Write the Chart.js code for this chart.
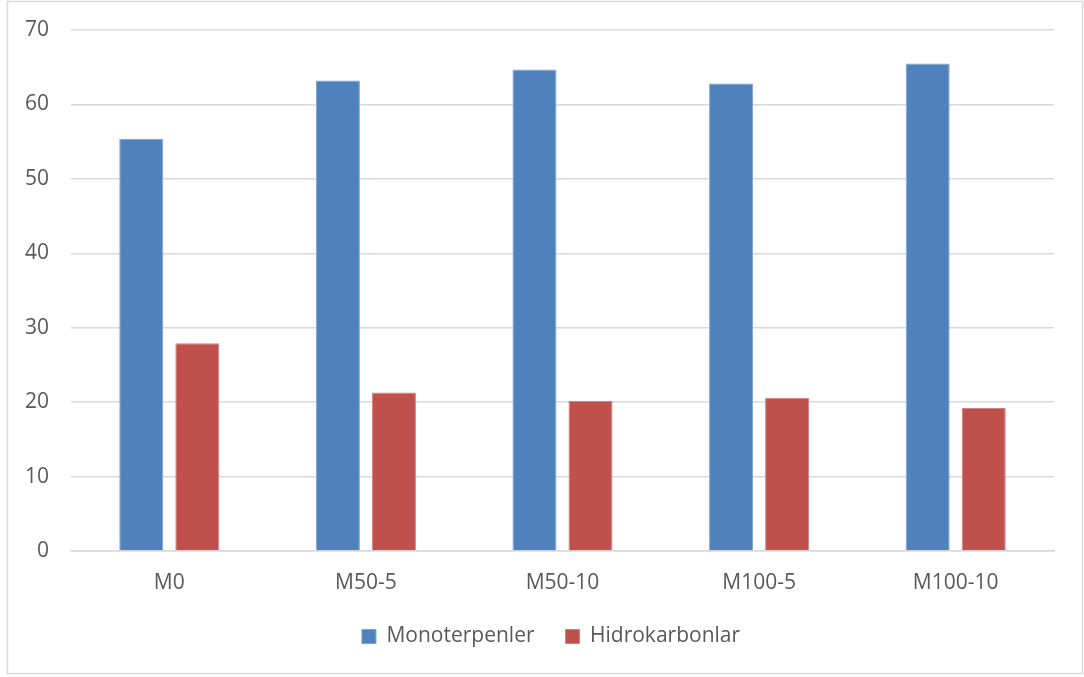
<!DOCTYPE html>
<html>
<head>
<meta charset="utf-8">
<script src="https://cdn.jsdelivr.net/npm/chart.js@4.4.1/dist/chart.umd.min.js"></script>
<style>
  html, body { margin: 0; padding: 0; background: #ffffff; }
  #wrap { position: relative; width: 1084px; height: 677px; }
</style>
</head>
<body>
<div id="wrap"><canvas id="chart" width="1084" height="677"></canvas></div>
<script>
// Sample groups and measured shares (%)
const categories = ['M0', 'M50-5', 'M50-10', 'M100-5', 'M100-10'];
const monoterpenler = [55.4, 63.2, 64.7, 62.8, 65.5];
const hidrokarbonlar = [27.9, 21.3, 20.2, 20.6, 19.2];
const yTicks = [0, 10, 20, 30, 40, 50, 60, 70];

const FONT = "'Open Sans', 'Noto Sans', sans-serif";
const FONT_SIZE = 21;
const TEXT = '#595959';
const GRID = '#d9d9d9';

// Light frame around the whole chart
const framePlugin = {
  id: 'frame',
  beforeDraw(chart) {
    const ctx = chart.ctx;
    ctx.save();
    ctx.fillStyle = '#ffffff';
    ctx.fillRect(0, 0, chart.width, chart.height);
    ctx.strokeStyle = '#d9d9d9';
    ctx.lineWidth = 1.5;
    ctx.strokeRect(7.5, 1.5, 1075, 672);
    ctx.restore();
  }
};

// Center the legend on the whole frame rather than on the padded area
const legendShift = {
  id: 'legendShift',
  afterLayout(chart) {
    if (chart.legend) {
      chart.legend.left += 20;
      chart.legend.right += 20;
    }
  }
};

new Chart(document.getElementById('chart'), {
  type: 'bar',
  data: {
    labels: categories,
    datasets: [
      {
        label: 'Monoterpenler',
        data: monoterpenler,
        backgroundColor: '#4f81bd',
        borderColor: '#7ea3d2',
        borderWidth: 1
      },
      {
        label: 'Hidrokarbonlar',
        data: hidrokarbonlar,
        backgroundColor: '#c0504d',
        borderColor: '#d48280',
        borderWidth: 1
      }
    ]
  },
  options: {
    responsive: false,
    animation: false,
    devicePixelRatio: 1,
    datasets: {
      bar: { categoryPercentage: 0.57, barPercentage: 0.786 }
    },
    layout: { padding: { left: 8, right: 30, top: 30, bottom: 20 } },
    plugins: {
      tooltip: { enabled: false },
      legend: {
        position: 'bottom',
        labels: {
          color: TEXT,
          font: { family: FONT, size: FONT_SIZE },
          boxWidth: 14,
          boxHeight: 14,
          padding: 31
        }
      }
    },
    scales: {
      x: {
        grid: { display: false, drawTicks: false },
        border: { display: true, color: GRID, width: 1.5 },
        ticks: { color: TEXT, font: { family: FONT, size: FONT_SIZE }, padding: 19 },
        afterFit(scale) {
          scale.height = 44;
          scale.paddingLeft = 0;
          scale.paddingRight = 0;
        }
      },
      y: {
        min: 0,
        max: 70,
        afterBuildTicks(scale) { scale.ticks = yTicks.map(v => ({ value: v })); },
        grid: { color: GRID, lineWidth: 1.5, drawTicks: false },
        border: { display: false },
        ticks: { color: TEXT, font: { family: FONT, size: FONT_SIZE }, padding: 22 },
        afterFit(scale) {
          scale.width = 63;
          scale.paddingTop = 0;
          scale.paddingBottom = 0;
        }
      }
    }
  },
  plugins: [framePlugin, legendShift]
});
</script>
</body>
</html>
